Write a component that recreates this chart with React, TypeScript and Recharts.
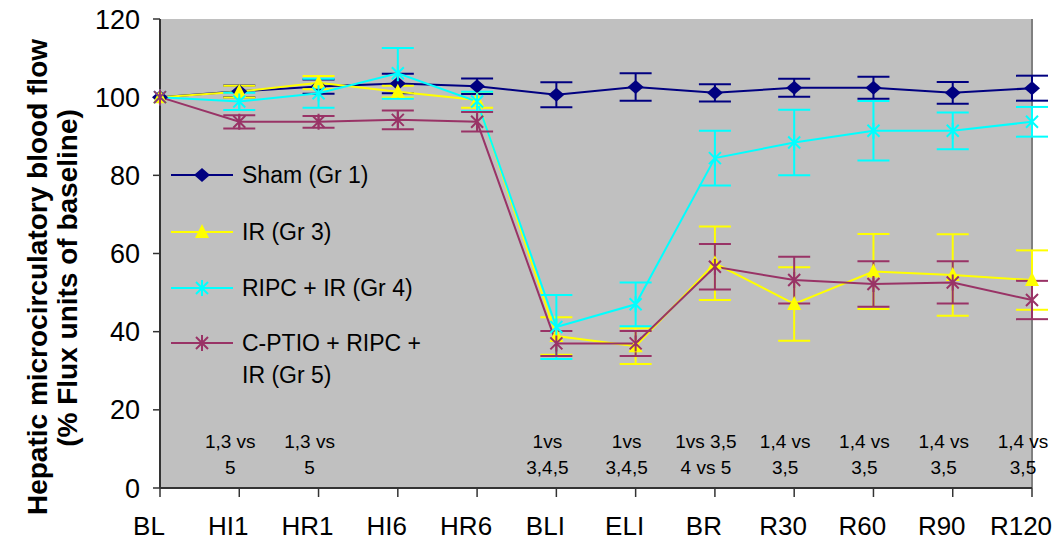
import React from 'react';
import {
  LineChart,
  Line,
  XAxis,
  YAxis,
  ErrorBar,
  ReferenceDot,
  ReferenceLine,
  CartesianGrid,
  Customized,
} from 'recharts';

// Time points
const categories = ['BL', 'HI1', 'HR1', 'HI6', 'HR6', 'BLI', 'ELI', 'BR', 'R30', 'R60', 'R90', 'R120'];

// Mean flow (% of baseline) and error per group; baseline has no error bar
const shamValues = [100, 101.5, 102.7, 103.5, 102.8, 100.6, 102.6, 101.1, 102.4, 102.4, 101.1, 102.3];
const shamErrors = [null, 1.5, 1.8, 2.5, 2, 3.2, 3.5, 2.2, 2.3, 2.8, 2.8, 3.2];

const irValues = [100, 101.4, 103.7, 101.4, 99.3, 38.9, 36.3, 57.5, 47.1, 55.4, 54.5, 53.2];
const irErrors = [null, 1.5, 1.7, 1.5, 2, 4.8, 4.6, 9.4, 9.4, 9.6, 10.4, 7.6];

const ripcValues = [100, 98.9, 101, 106.1, 98.9, 41.2, 47.0, 84.4, 88.4, 91.4, 91.4, 93.7];
const ripcErrors = [null, 2.2, 3.7, 6.5, 2.5, 8.2, 5.6, 7, 8.4, 7.6, 4.7, 3.8];

const cptioValues = [100, 93.7, 93.7, 94.2, 93.7, 37.0, 37.0, 56.6, 53.2, 52.2, 52.6, 48.1];
const cptioErrors = [null, 1.7, 1.5, 2.4, 2.5, 3.2, 3.2, 5.8, 6, 5.8, 5.4, 4.9];

const yTicks = [0, 20, 40, 60, 80, 100, 120];

// Significance notes under each time point
const noteCategories = ['HI1', 'HR1', 'BLI', 'ELI', 'BR', 'R30', 'R60', 'R90', 'R120'];
const noteLines = [
  ['1,3 vs', '5'],
  ['1,3 vs', '5'],
  ['1vs', '3,4,5'],
  ['1vs', '3,4,5'],
  ['1vs 3,5', '4 vs 5'],
  ['1,4 vs', '3,5'],
  ['1,4 vs', '3,5'],
  ['1,4 vs', '3,5'],
  ['1,4 vs', '3,5'],
];
const noteAnchorValue = 8.45;

const seriesNames = ['Sham (Gr 1)', 'IR (Gr 3)', 'RIPC + IR (Gr 4)', 'C-PTIO + RIPC +|IR (Gr 5)'];

const NAVY = '#000080';
const YELLOW = '#FFFF00';
const CYAN = '#00FFFF';
const PLUM = '#993366';
const FONT = '"Liberation Sans", Arial, sans-serif';

const data = categories.map((cat, i) => ({
  cat,
  sham: shamValues[i],
  shamErr: shamErrors[i],
  ir: irValues[i],
  irErr: irErrors[i],
  ripc: ripcValues[i],
  ripcErr: ripcErrors[i],
  cptio: cptioValues[i],
  cptioErr: cptioErrors[i],
}));

type MarkProps = { cx?: number; cy?: number; color: string };

const Diamond = ({ cx = 0, cy = 0, color }: MarkProps) => (
  <polygon points={`${cx},${cy - 7} ${cx + 8},${cy} ${cx},${cy + 7} ${cx - 8},${cy}`} fill={color} />
);

const Triangle = ({ cx = 0, cy = 0, color }: MarkProps) => (
  <polygon points={`${cx},${cy - 8} ${cx + 7},${cy + 6} ${cx - 7},${cy + 6}`} fill={color} />
);

const Star = ({ cx = 0, cy = 0, color }: MarkProps) => (
  <path
    d={`M${cx - 6},${cy - 6}L${cx + 6},${cy + 6}M${cx - 6},${cy + 6}L${cx + 6},${cy - 6}M${cx},${cy - 8}L${cx},${cy + 8}`}
    stroke={color}
    strokeWidth={2}
    fill="none"
  />
);

const markers = [Diamond, Triangle, Star, Star];
const colors = [NAVY, YELLOW, CYAN, PLUM];

const makeDot = (Mark: React.FC<MarkProps>, color: string) => (props: any) => (
  <Mark key={`${color}-${props.index}`} cx={props.cx} cy={props.cy} color={color} />
);

const NoteText = ({ cx = 0, cy = 0, lines }: { cx?: number; cy?: number; lines: string[] }) => (
  <text x={cx - 9} y={cy} textAnchor="middle" fontFamily={FONT} fontSize={19} fill="#000">
    <tspan x={cx - 9} y={cy - 13} dominantBaseline="central">
      {lines[0]}
    </tspan>
    <tspan x={cx - 9} y={cy + 13} dominantBaseline="central">
      {lines[1]}
    </tspan>
  </text>
);

// Legend block drawn inside the plot area and the rotated axis title
const Frame = () => {
  const rows = [175, 232, 288, 343];
  return (
    <g>
      {seriesNames.map((name, i) => {
        const Mark = markers[i];
        const y = rows[i];
        const parts = name.split('|');
        return (
          <g key={name}>
            <line x1={171} x2={233} y1={y} y2={y} stroke={colors[i]} strokeWidth={2} />
            <Mark cx={202} cy={y} color={colors[i]} />
            {parts.map((p, j) => (
              <text
                key={p}
                x={242}
                y={y + j * 32}
                dominantBaseline="central"
                fontFamily={FONT}
                fontSize={23}
                fill="#000"
              >
                {p}
              </text>
            ))}
          </g>
        );
      })}
      <g transform="translate(37,277) rotate(-90)">
        <text textAnchor="middle" dominantBaseline="central" fontFamily={FONT} fontWeight="bold" fontSize={28} fill="#000">
          Hepatic microcirculatory blood flow
        </text>
      </g>
      <g transform="translate(67,278) rotate(-90)">
        <text textAnchor="middle" dominantBaseline="central" fontFamily={FONT} fontWeight="bold" fontSize={28} fill="#000">
          (% Flux units of baseline)
        </text>
      </g>
    </g>
  );
};

const keys = ['sham', 'ir', 'ripc', 'cptio'];

export default function App() {
  return (
    <div style={{ position: 'absolute', left: 0, top: 0, width: 1064, height: 542, background: '#fff' }}>
      <LineChart width={1064} height={542} data={data} margin={{ top: 19, right: 32, bottom: 0, left: 100 }}>
        <CartesianGrid fill="#C0C0C0" horizontal={false} vertical={false} stroke="none" />
        <XAxis
          dataKey="cat"
          height={54}
          tickSize={9}
          tickMargin={20}
          interval={0}
          axisLine={{ stroke: '#333', strokeWidth: 2 }}
          tickLine={{ stroke: '#333', strokeWidth: 1.5 }}
          tick={{ fontFamily: FONT, fontSize: 26, fill: '#000', dx: -11 }}
          padding={{ left: 0, right: 0 }}
        />
        <YAxis
          width={60}
          domain={[0, 120]}
          ticks={yTicks}
          tickSize={7}
          tickMargin={13}
          axisLine={{ stroke: '#333', strokeWidth: 2 }}
          tickLine={{ stroke: '#333', strokeWidth: 1.5 }}
          tick={{ fontFamily: FONT, fontSize: 27, fill: '#000' }}
        />
        <ReferenceLine x="R120" stroke="#808080" strokeWidth={2} />
        {keys.map((k, i) => (
          <Line
            key={k}
            dataKey={k}
            stroke={colors[i]}
            strokeWidth={2}
            isAnimationActive={false}
            dot={makeDot(markers[i], colors[i])}
            activeDot={false}
          >
            <ErrorBar dataKey={`${k}Err`} width={16} stroke={colors[i]} strokeWidth={2} direction="y" />
          </Line>
        ))}
        {noteCategories.map((cat, i) => (
          <ReferenceDot
            key={cat}
            x={cat}
            y={noteAnchorValue}
            r={0}
            ifOverflow="visible"
            shape={(p: any) => <NoteText cx={p.cx} cy={p.cy} lines={noteLines[i]} />}
          />
        ))}
        <Customized component={Frame} />
      </LineChart>
    </div>
  );
}
